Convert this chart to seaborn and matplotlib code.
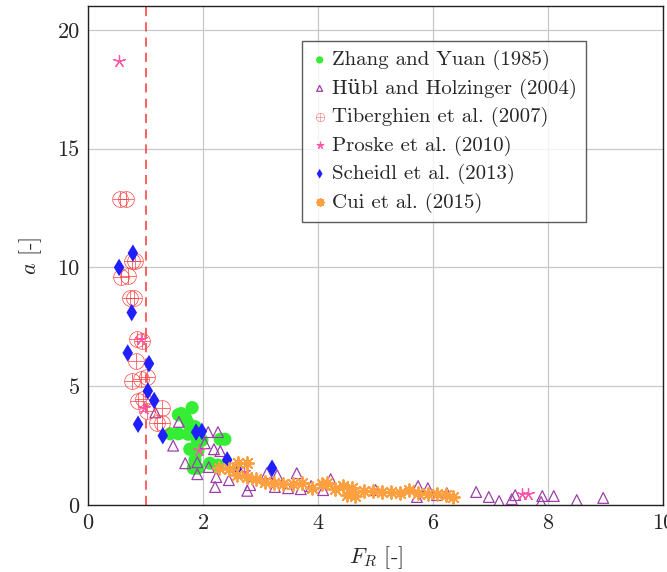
import matplotlib
matplotlib.use("Agg")
import matplotlib.pyplot as plt
import seaborn as sns
import pandas as pd

# ---------------- data ----------------
zhang_x = [1.43, 1.57, 1.57, 1.70, 1.74, 1.81, 1.86, 1.74, 1.90, 1.98, 2.30, 2.38,
           1.77, 1.91, 1.86, 1.83, 1.91, 2.12, 2.26, 1.62]
zhang_y = [3.00, 3.00, 3.80, 3.65, 3.45, 4.10, 3.30, 2.98, 2.73, 2.73, 2.77, 2.77,
           2.35, 2.27, 1.90, 1.55, 1.55, 1.76, 1.68, 3.85]

hubl_x = [1.17, 1.58, 1.48, 2.09, 2.26, 2.03, 2.19, 2.30, 1.69, 1.90, 1.90, 2.10,
          2.23, 2.45, 2.21, 2.82, 2.77, 3.11, 3.29, 3.63, 3.25, 3.48, 3.70, 3.88,
          4.09, 4.22, 5.00, 5.74, 5.91, 5.72, 6.07, 6.24, 6.75, 6.97, 7.15, 7.37,
          7.43, 7.90, 7.88, 8.10, 8.50, 8.96]
hubl_y = [3.90, 3.50, 2.50, 3.07, 3.07, 2.60, 2.35, 2.27, 1.76, 1.80, 1.30, 1.60,
          1.18, 1.05, 0.76, 0.84, 0.60, 1.34, 1.26, 1.34, 0.76, 0.71, 0.67, 0.80,
          0.63, 1.09, 0.63, 0.80, 0.71, 0.34, 0.42, 0.50, 0.55, 0.34, 0.17, 0.25,
          0.42, 0.38, 0.13, 0.38, 0.21, 0.30]

tib_x = [0.56, 0.66, 0.76, 0.81, 0.57, 0.70, 0.73, 0.80, 0.85, 0.94, 0.83, 0.77,
         0.92, 1.02, 0.87, 0.96, 1.02, 1.28, 1.20, 1.28]
tib_y = [12.90, 12.90, 10.25, 10.25, 9.60, 9.65, 8.70, 8.70, 6.97, 6.90, 6.05, 5.20,
         5.30, 5.40, 4.40, 4.45, 3.95, 4.07, 3.45, 3.45]

proske_x = [0.53, 0.92, 0.97, 1.93, 2.72, 7.55, 7.65]
proske_y = [18.70, 7.00, 4.10, 2.30, 1.40, 0.46, 0.46]

scheidl_x = [0.54, 0.78, 0.76, 0.69, 1.06, 1.04, 1.15, 0.87, 1.30, 1.88, 1.98,
             2.42, 2.59, 3.20]
scheidl_y = [10.00, 10.60, 8.10, 6.40, 5.95, 4.80, 4.40, 3.40, 2.92, 3.07, 3.10,
             1.90, 1.50, 1.55]

cui_x = [2.28, 2.45, 2.61, 2.76, 2.59, 2.77, 2.92, 3.08, 3.23, 3.39, 3.56, 3.72,
         3.90, 4.07, 4.16, 4.30, 4.43, 4.59, 4.50, 4.64, 4.80, 4.96, 5.11, 5.27,
         5.43, 5.58, 5.74, 5.91, 6.07, 6.23, 6.35]
cui_y = [1.55, 1.50, 1.76, 1.76, 1.26, 1.18, 1.09, 0.98, 0.92, 0.90, 0.88, 0.92,
         0.71, 0.88, 0.92, 0.67, 0.80, 0.71, 0.42, 0.38, 0.59, 0.59, 0.55, 0.55,
         0.50, 0.63, 0.50, 0.46, 0.46, 0.42, 0.34]

labels = ["Zhang and Yuan (1985)", "Hübl and Holzinger (2004)",
          "Tiberghien et al. (2007)", "Proske et al. (2010)",
          "Scheidl et al. (2013)", "Cui et al. (2015)"]

x_ticks = [0, 2, 4, 6, 8, 10]
y_ticks = [0, 5, 10, 15, 20]

# ---------------- style ----------------
sns.set_style("white")
plt.rcParams["font.family"] = ["cmr10", "DejaVu Serif"]
plt.rcParams["mathtext.fontset"] = "cm"
plt.rcParams["axes.formatter.use_mathtext"] = True

fig = plt.figure(figsize=(6.67, 5.72), dpi=100)
ax = fig.add_axes([0.132, 0.117, 0.862, 0.8725])

series = [
    (zhang_x, zhang_y, dict(marker="o", s=90, color="#33ee33", edgecolor="none")),
    (hubl_x, hubl_y, dict(marker="^", s=60, facecolor="none", edgecolor="#9b3fa8", linewidth=0.9)),
    (tib_x, tib_y, dict(marker=r"$\oplus$", s=140, color="#ff4040", linewidth=0)),
    (proske_x, proske_y, dict(marker=(5, 2, 0), s=75, color="#ff55aa", linewidth=0.9)),
    (scheidl_x, scheidl_y, dict(marker="d", s=80, color="#2020ff", edgecolor="none")),
    (cui_x, cui_y, dict(marker=(8, 2, 0), s=85, color="#ffa040", linewidth=1.4)),
]

for (xs, ys, kw), lab in zip(series, labels):
    df = pd.DataFrame({"F_R": xs, "a": ys})
    sns.scatterplot(data=df, x="F_R", y="a", ax=ax, label=lab, zorder=3, **kw)

ax.axvline(1.0, color="#ff3333", linestyle=(0, (6, 4)), linewidth=1.1, zorder=2)

ax.set_xlim(0, 10)
ax.set_ylim(0, 21)
ax.set_xticks(x_ticks)
ax.set_yticks(y_ticks)
ax.set_xticklabels([str(t) for t in x_ticks])
ax.set_yticklabels([str(t) for t in y_ticks])
ax.grid(True, color="#c8c8c8", linewidth=0.9)
ax.set_axisbelow(True)
ax.tick_params(axis="both", direction="in", length=7, color="#aaaaaa",
               labelsize=16, pad=6)
for sp in ax.spines.values():
    sp.set_color("#222222")
    sp.set_linewidth(1.0)

ax.set_xlabel(r"$F_R$ [-]", fontsize=16, labelpad=8)
ax.set_ylabel(r"$a$ [-]", fontsize=16, labelpad=10)

leg = ax.legend(loc="upper left", bbox_to_anchor=(0.372, 0.93), fontsize=15,
                frameon=True, fancybox=False, edgecolor="#333333",
                markerscale=0.55, handletextpad=0.2, handlelength=0.8,
                labelspacing=0.4, borderpad=0.45, borderaxespad=0)
leg.get_frame().set_linewidth(1.0)

fig.savefig("out.png", dpi=100)
